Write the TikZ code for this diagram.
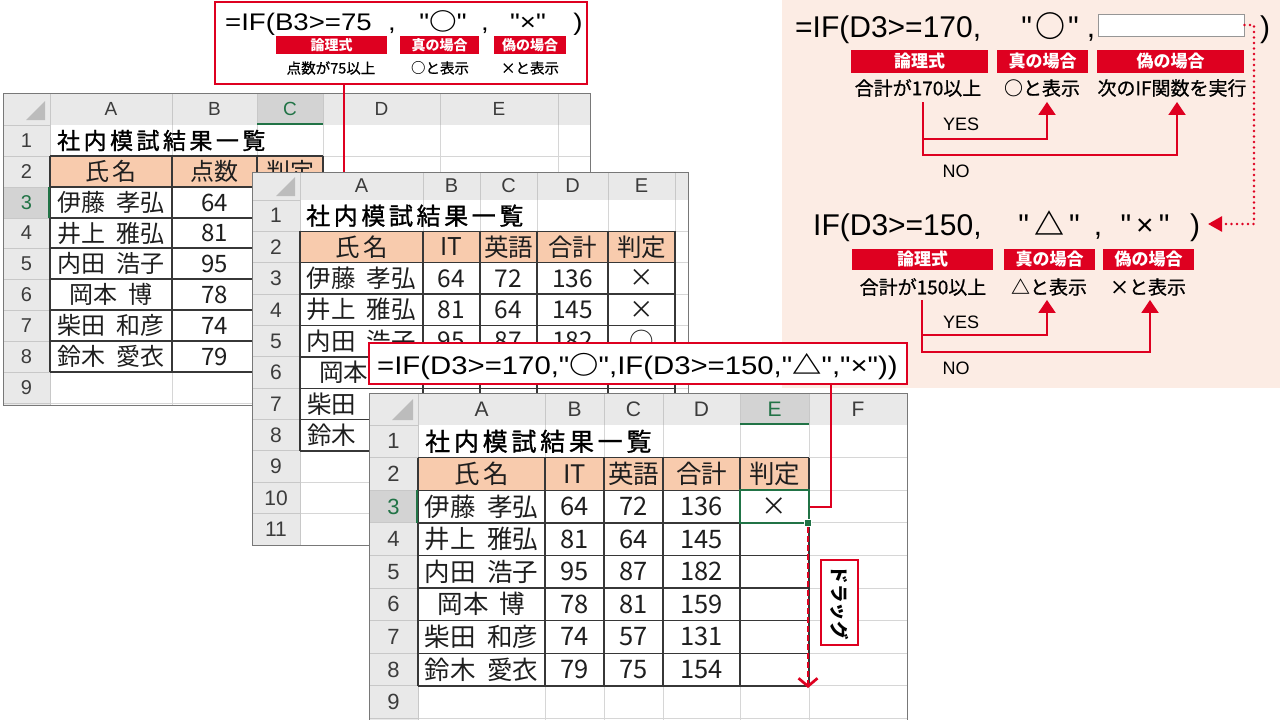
\documentclass[tikz,border=0pt]{standalone}
\usepackage{fontspec}
\usepackage{graphicx}
\setmainfont{Noto Sans CJK JP}
\newfontfamily\jp{Noto Sans CJK JP}
\newfontfamily\subf[FakeBold=0.7]{Noto Sans CJK JP}
\newfontfamily\lat{Liberation Sans}
\newfontfamily\ttlf[LetterSpace=15,FakeBold=1.2]{Noto Sans CJK JP}
\usetikzlibrary{arrows.meta}
\newcommand{\fsz}[1]{\fontsize{#1}{#1}\selectfont}
\newcommand{\sym}[1]{{\jp\bfseries #1}}
\newcommand{\nsp}{\kern0.45em}
\definecolor{xred}{RGB}{222,0,32}
\definecolor{hdrc}{RGB}{233,233,233}
\definecolor{selc}{RGB}{211,211,211}
\definecolor{hdrline}{RGB}{200,200,200}
\definecolor{gridc}{RGB}{214,214,214}
\definecolor{peachc}{RGB}{248,203,173}
\definecolor{xgreen}{RGB}{33,115,70}
\definecolor{panelc}{RGB}{252,236,228}
\definecolor{tline}{RGB}{55,55,55}
\definecolor{framec}{RGB}{120,120,120}
\definecolor{tric}{RGB}{188,188,188}
\definecolor{hdtext}{RGB}{60,60,60}
\definecolor{celltext}{RGB}{30,30,30}
\definecolor{wbline}{RGB}{150,150,150}
\begin{document}
\begin{tikzpicture}[x=1pt,y=-1pt,
  xgl/.style={draw=gridc, line width=0.9pt},
  xhl/.style={draw=hdrline, line width=0.9pt},
  xtb/.style={draw=tline, line width=1.4pt},
  hdtxt/.style={inner sep=0pt, text=hdtext, font=\lat\fsz{#1}},
  celltxt/.style={inner sep=0pt, text=celltext, font=\jp\fsz{#1}},
  ttltxt/.style={inner sep=0pt, anchor=west, text=black, font=\ttlf\fsz{#1}},
  labbox/.style={fill=xred, text=white, inner sep=0pt, font=\jp\bfseries\fsz{#1}},
  subtxt/.style={inner sep=0pt, text=black, font=\subf\fsz{#1}},
  fmltxt/.style={inner sep=0pt, anchor=base, text=black, font=\lat\fsz{#1}},
  rconn/.style={draw=xred, line width=2pt},
  rarr/.style={draw=xred, line width=2pt, -{Triangle[width=17pt,length=13pt]}},
  dotl/.style={draw=xred, line width=2.6pt, line cap=round, dash pattern=on 0pt off 5.5pt, -{Triangle[width=15pt,length=14pt]}},
  fbox/.style={draw=xred, fill=white, inner sep=0pt}
]
\useasboundingbox (0,0) rectangle (1280,720);
\fill[white] (0,0) rectangle (1280,720);

% ================= SHEET 1 =================
\fill[white] (3,93) rectangle (590,405);
\fill[hdrc] (3,93) rectangle (590,125);
\fill[hdrc] (3,125) rectangle (50,405);
\fill[selc] (257,93) rectangle (323,125);
\fill[selc] (3,187) rectangle (50,218);
\foreach \x in {172,257,323,440,558} \draw[xgl] (\x,125) -- (\x,405);
\foreach \y in {156,187,218,248,279,310,341,372,403} \draw[xgl] (50,\y) -- (590,\y);
\foreach \x in {50,172,257,323,440,558} \draw[xhl] (\x,93) -- (\x,125);
\foreach \y in {125,156,187,218,248,279,310,341,372,403} \draw[xhl] (3,\y) -- (50,\y);
\draw[xhl] (50,125) -- (50,405);
\fill[peachc] (50,156) rectangle (323,187);
\foreach \x in {50,172,257,323} \draw[xtb] (\x,156) -- (\x,372);
\foreach \y in {156,187,218,248,279,310,341,372} \draw[xtb] (50,\y) -- (323,\y);
\draw[xgreen, line width=2pt] (257,124) -- (323,124);
\draw[xgreen, line width=2pt] (49,187) -- (49,218);
\fill[tric] (45,120) -- (45,101) -- (26,120) -- cycle;
\draw[framec, line width=1pt] (3,93) rectangle (590,405);
\foreach \l/\x in {A/111,B/214.5,D/381.5,E/499} \node[hdtxt=19] (s1c\l) at (\x,109) {\l};
\node[hdtxt=19, text=xgreen] (s1cC) at (290,109) {C};
\foreach \n/\y in {1/140.5,2/171.5,4/233,5/263.5,6/294.5,7/325.5,8/356.5,9/387.5} \node[hdtxt=20] (s1r\n) at (26.5,\y) {\n};
\node[hdtxt=20, text=xgreen] (s1r3) at (26.5,202.5) {3};
\node[ttltxt=23] (s1t) at (57,140.5) {社内模試結果一覧};
\node[celltxt=24] (s1h1) at (111,171.5) {氏\kern0.15em 名};
\node[celltxt=24] (s1h2) at (214.5,171.5) {点数};
\node[celltxt=24] (s1h3) at (290,171.5) {判定};
\foreach \nm/\sc/\y [count=\i] in {伊藤\nsp 孝弘/64/202.5, 井上\nsp 雅弘/81/233, 内田\nsp 浩子/95/263.5, 岡本\nsp 博/78/294.5, 柴田\nsp 和彦/74/325.5, 鈴木\nsp 愛衣/79/356.5}
  {\node[celltxt=24] (s1n\i) at (111,\y) {\nm};
   \node[celltxt=24] (s1s\i) at (214.5,\y) {\sc};}

% ================= BOX 1 =================
\coordinate (c1x) at (344,0);
\coordinate (c1end) at (344,200);
\node[fbox, line width=1.5pt, minimum width=372pt, minimum height=82pt] (box1) at (401,43) {};
\draw[rconn, line width=1.5pt] (box1.south -| c1x) -- (c1end);
\node[fmltxt=24, anchor=base west] (f1a) at (225,30) {\scalebox{1.15}[1]{=IF(B3>=75}};
\node[fmltxt=24] (f1b) at (392,30) {\scalebox{1.15}[1]{,}};
\node[fmltxt=24] (f1c) at (443,30) {\scalebox{1.15}[1]{"\sym{○}"}};
\node[fmltxt=24] (f1d) at (485,30) {\scalebox{1.15}[1]{,}};
\node[fmltxt=24] (f1e) at (528,30) {\scalebox{1.15}[1]{"×"}};
\node[fmltxt=24] (f1f) at (578,30) {\scalebox{1.15}[1]{)}};
\node[labbox=14, minimum width=111pt, minimum height=18pt] (l1a) at (331.5,45) {論理式};
\node[labbox=14, minimum width=79pt, minimum height=18pt] (l1b) at (439.5,45) {真の場合};
\node[labbox=14, minimum width=72pt, minimum height=18pt] (l1c) at (530,45) {偽の場合};
\node[subtxt=14.5] (s1a) at (331,68) {点数が75以上};
\node[subtxt=14.5] (s1b) at (440,68) {\sym{○}と表示};
\node[subtxt=14.5] (s1c) at (530,68) {×と表示};

% ================= RIGHT PANEL =================
\fill[panelc] (782,0) rectangle (1280,388);
\node[fmltxt=30, anchor=base west] (p1a) at (795,37) {=IF(D3>=170,};
\node[fmltxt=30] (p1b) at (1050,37) {"\kern3pt\sym{○}\kern3pt"};
\node[fmltxt=30] (p1c) at (1091,37) {,};
\node[draw=wbline, fill=white, line width=1pt, minimum width=146pt, minimum height=22pt, inner sep=0pt] (wb) at (1171,25) {};
\node[fmltxt=30] (p1d) at (1265,37) {)};
\node[labbox=17, minimum width=137pt, minimum height=23pt] (lr1a) at (919.5,61.5) {論理式};
\node[labbox=17, minimum width=91pt, minimum height=23pt] (lr1b) at (1042.5,61.5) {真の場合};
\node[labbox=17, minimum width=147pt, minimum height=23pt] (lr1c) at (1170.5,61.5) {偽の場合};
\node[subtxt=19] (sr1a) at (918,88) {合計が170以上};
\node[subtxt=19] (sr1b) at (1042,88) {\sym{○}と表示};
\node[subtxt=19] (sr1c) at (1172,88) {次のIF関数を実行};
\coordinate (a1) at ([xshift=5pt,yshift=-5pt]sr1a.south);
\coordinate (b1) at ([xshift=5pt,yshift=-5pt]sr1b.south);
\coordinate (e1) at ([xshift=5pt,yshift=-5pt]sr1c.south);
\coordinate (yes1) at (0,139);
\coordinate (no1) at (0,155);
\draw[rarr] (a1) |- (yes1 -| b1) -- (b1);
\draw[rarr] (a1) |- (no1 -| e1) -- (e1);
\node[fmltxt=18, anchor=center] (yt1) at (961,124) {YES};
\node[fmltxt=18, anchor=center] (nt1) at (956,171) {NO};

\node[fmltxt=30, anchor=base west] (p2a) at (813,235) {IF(D3>=150,};
\node[fmltxt=30] (p2b) at (1049,235) {"\,\sym{△}\,"};
\node[fmltxt=30] (p2c) at (1098,235) {,};
\node[fmltxt=30] (p2d) at (1145,235) {"\,×\,"};
\node[fmltxt=30] (p2e) at (1195,235) {)};
\coordinate (dotx) at (1254,0);
\coordinate (dotend) at (1208,224);
\draw[dotl] (wb.east) -- (wb.east -| dotx) -- (dotx |- dotend) -- (dotend);
\node[labbox=17, minimum width=141pt, minimum height=21pt] (lr2a) at (922.5,259.5) {論理式};
\node[labbox=17, minimum width=91pt, minimum height=21pt] (lr2b) at (1049.5,259.5) {真の場合};
\node[labbox=17, minimum width=91pt, minimum height=21pt] (lr2c) at (1148.5,259.5) {偽の場合};
\node[subtxt=19] (sr2a) at (923,287) {合計が150以上};
\node[subtxt=19] (sr2b) at (1049,287) {\sym{△}と表示};
\node[subtxt=19] (sr2c) at (1148,287) {×と表示};
\coordinate (a2) at ([xshift=-1pt,yshift=-4pt]sr2a.south);
\coordinate (b2) at ([xshift=-2pt,yshift=-4pt]sr2b.south);
\coordinate (e2) at ([xshift=2pt,yshift=-4pt]sr2c.south);
\coordinate (yes2) at (0,335);
\coordinate (no2) at (0,352);
\draw[rarr] (a2) |- (yes2 -| b2) -- (b2);
\draw[rarr] (a2) |- (no2 -| e2) -- (e2);
\node[fmltxt=18, anchor=center] (yt2) at (961,322) {YES};
\node[fmltxt=18, anchor=center] (nt2) at (956,368) {NO};

% ================= SHEET 2 =================
\fill[white] (252,172) rectangle (688,545);
\fill[hdrc] (252,172) rectangle (688,200);
\fill[hdrc] (252,200) rectangle (300,545);
\foreach \x in {423,480,537,608,675} \draw[xgl] (\x,200) -- (\x,545);
\foreach \y in {231.4,262.7,294.1,325.5,356.8,388.2,419.5,450.9,482.3,513.6} \draw[xgl] (300,\y) -- (688,\y);
\foreach \x in {300,423,480,537,608,675} \draw[xhl] (\x,172) -- (\x,200);
\foreach \y in {200,231.4,262.7,294.1,325.5,356.8,388.2,419.5,450.9,482.3,513.6} \draw[xhl] (252,\y) -- (300,\y);
\draw[xhl] (300,200) -- (300,545);
\fill[peachc] (300,231.4) rectangle (675,262.7);
\foreach \x in {300,423,480,537,608,675} \draw[xtb] (\x,231.4) -- (\x,450.9);
\foreach \y in {231.4,262.7,294.1,325.5,356.8,388.2,419.5,450.9} \draw[xtb] (300,\y) -- (675,\y);
\fill[tric] (295,196) -- (295,177) -- (276,196) -- cycle;
\draw[framec, line width=1pt] (252,172) rectangle (688,545);
\foreach \l/\x in {A/361.5,B/451.5,C/508.5,D/572.5,E/641.5} \node[hdtxt=20] (s2c\l) at (\x,186) {\l};
\foreach \n/\y in {1/215.7,2/247,3/278.4,4/309.8,5/341.1,6/372.5,7/403.9,8/435.2,9/466.6,10/497.9,11/529.3} \node[hdtxt=21] (s2r\n) at (276,\y) {\n};
\node[ttltxt=24] (s2t) at (306,215.7) {社内模試結果一覧};
\foreach \h/\x [count=\i] in {氏\kern0.15em 名/361.5,IT/451.5,英語/508.5,合計/572.5,判定/641.5} \node[celltxt=24.5] (s2h\i) at (\x,247) {\h};
\foreach \nm/\va/\vb/\vc/\vd/\y [count=\i] in {伊藤\nsp 孝弘/64/72/136/×/278.4, 井上\nsp 雅弘/81/64/145/×/309.8, 内田\nsp 浩子/95/87/182/○/341.1}
  {\node[celltxt=24.5] (s2n\i) at (361.5,\y) {\nm};
   \node[celltxt=24.5] (s2b\i) at (451.5,\y) {\va};
   \node[celltxt=24.5] (s2c\i) at (508.5,\y) {\vb};
   \node[celltxt=24.5] (s2d\i) at (572.5,\y) {\vc};
   \node[celltxt=24.5] (s2e\i) at (641.5,\y) {\vd};}
\node[celltxt=24.5, anchor=west] (s2n4) at (319,372.5) {岡本};
\node[celltxt=24.5, anchor=west] (s2n5) at (307,403.9) {柴田};
\node[celltxt=24.5, anchor=west] (s2n6) at (307,435.2) {鈴木};

% ================= BOX 3 =================
\node[fbox, line width=2pt, minimum width=538pt, minimum height=41pt] (box3) at (638,363.5) {};
\node[fmltxt=25.5, anchor=base west] (f3) at (377,374) {\scalebox{1.15}[1]{=IF(D3>=170,"\sym{○}",IF(D3>=150,"\sym{△}","×"))}};

% ================= SHEET 3 =================
\fill[white] (369,393) rectangle (907,720);
\fill[hdrc] (369,393) rectangle (907,425);
\fill[hdrc] (369,425) rectangle (418,720);
\fill[selc] (740,393) rectangle (809,425);
\fill[selc] (369,490.2) rectangle (418,522.8);
\foreach \x in {545,604,663,740,809} \draw[xgl] (\x,425) -- (\x,720);
\foreach \y in {457.6,490.2,522.8,555.4,588,620.6,653.2,685.8,718.4} \draw[xgl] (418,\y) -- (907,\y);
\foreach \x in {418,545,604,663,740,809} \draw[xhl] (\x,393) -- (\x,425);
\foreach \y in {425,457.6,490.2,522.8,555.4,588,620.6,653.2,685.8,718.4} \draw[xhl] (369,\y) -- (418,\y);
\draw[xhl] (418,425) -- (418,720);
\fill[peachc] (418,457.6) rectangle (809,490.2);
\foreach \x in {418,545,604,663,740,809} \draw[xtb] (\x,457.6) -- (\x,685.8);
\foreach \y in {457.6,490.2,522.8,555.4,588,620.6,653.2,685.8} \draw[xtb] (418,\y) -- (809,\y);
\draw[xgreen, line width=2pt] (740,424) -- (809,424);
\draw[xgreen, line width=2pt] (417,490.2) -- (417,522.8);
\fill[tric] (413,420) -- (413,399) -- (392,420) -- cycle;
\draw[framec, line width=1pt] (369,393) rectangle (907,720);
\foreach \l/\x in {A/481.5,B/574.5,C/633.5,D/701.5,F/858} \node[hdtxt=21] (s3c\l) at (\x,409) {\l};
\node[hdtxt=21, text=xgreen] (s3cE) at (774.5,409) {E};
\foreach \n/\y in {1/441.3,2/473.9,4/539.1,5/571.7,6/604.3,7/636.9,8/669.5,9/702.1} \node[hdtxt=22] (s3r\n) at (393.5,\y) {\n};
\node[hdtxt=22, text=xgreen] (s3r3) at (393.5,506.5) {3};
\node[ttltxt=25] (s3t) at (425,441.3) {社内模試結果一覧};
\foreach \h/\x [count=\i] in {氏\kern0.15em 名/481.5,IT/574.5,英語/633.5,合計/701.5,判定/774.5} \node[celltxt=25.5] (s3h\i) at (\x,473.9) {\h};
\foreach \nm/\va/\vb/\vc/\y [count=\i] in {伊藤\nsp 孝弘/64/72/136/506.5, 井上\nsp 雅弘/81/64/145/539.1, 内田\nsp 浩子/95/87/182/571.7, 岡本\nsp 博/78/81/159/604.3, 柴田\nsp 和彦/74/57/131/636.9, 鈴木\nsp 愛衣/79/75/154/669.5}
  {\node[celltxt=25.5] (s3n\i) at (481.5,\y) {\nm};
   \node[celltxt=25.5] (s3b\i) at (574.5,\y) {\va};
   \node[celltxt=25.5] (s3c\i) at (633.5,\y) {\vb};
   \node[celltxt=25.5] (s3d\i) at (701.5,\y) {\vc};}
\node[draw=xgreen, line width=2.2pt, minimum width=69pt, minimum height=32.6pt, inner sep=0pt, text=celltext, font=\jp\fsz{25.5}] (s3e3) at (774.5,506.5) {×};
\coordinate (c3x) at (831,0);
\draw[rconn] (box3.south -| c3x) |- (s3e3.east);
\node[fill=xgreen, draw=white, line width=0.8pt, minimum size=7pt, inner sep=0pt] (fh) at (808,522.8) {};
\coordinate (dragend) at (808,688);
\draw[draw=xred, line width=2.7pt, dash pattern=on 6pt off 3pt, -{Straight Barb[length=8pt,width=19pt]}] (fh.south) -- (dragend);
\node[draw=xred, line width=2pt, fill=white, minimum width=85pt, minimum height=37pt, inner sep=0pt, rotate=-90, font=\jp\bfseries\fsz{18.5}] (drag) at (839.5,602.5) {ドラッグ};
\end{tikzpicture}
\end{document}
